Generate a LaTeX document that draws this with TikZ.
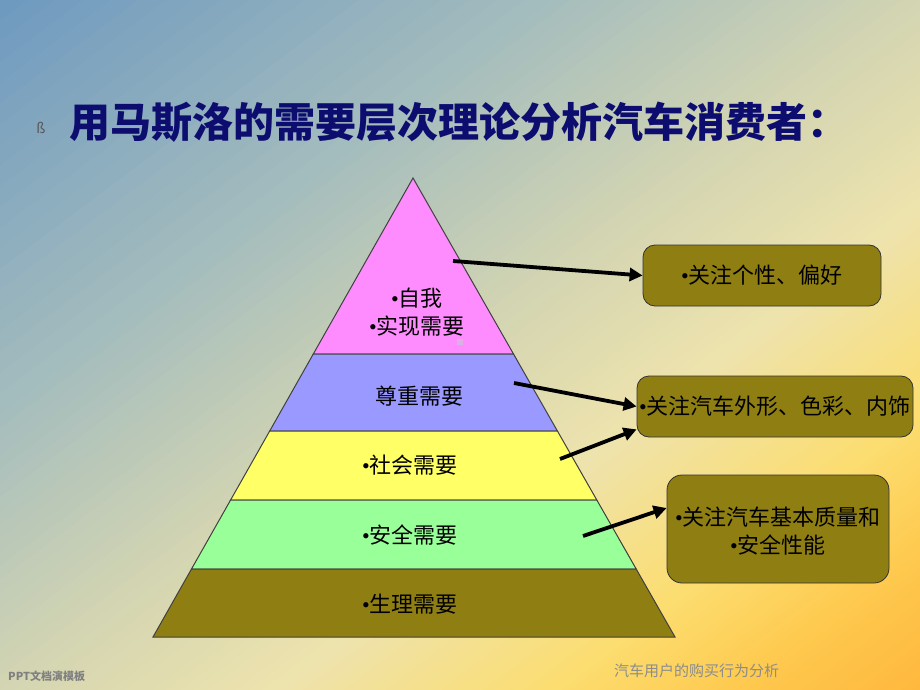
\documentclass[tikz,border=0pt]{standalone}
\usepackage{fontspec}
\usetikzlibrary{arrows.meta}
\newfontfamily\cjk{Noto Sans CJK SC}
\newfontfamily\latbul{Liberation Serif}
\newcommand\bu{{\latbul •}}
\definecolor{bgA}{HTML}{6E99BF}
\definecolor{bgB}{HTML}{A5BDBD}
\definecolor{bgC}{HTML}{D3D5B2}
\definecolor{bgD}{HTML}{EEE3AD}
\definecolor{bgE}{HTML}{FCDD70}
\definecolor{bgF}{HTML}{FEC94E}
\definecolor{bgG}{HTML}{FFB43A}
\definecolor{pinkL}{HTML}{FF8CFF}
\definecolor{blueL}{HTML}{9999FF}
\definecolor{yellowL}{HTML}{FFFF66}
\definecolor{greenL}{HTML}{99FF99}
\definecolor{oliveL}{HTML}{8F7F13}
\definecolor{titleC}{HTML}{0D0D70}
\definecolor{dotC}{HTML}{DCB0E4}
\begin{document}
\begin{tikzpicture}[x=1pt,y=-1pt,
  layer/.style={draw=black!75, line width=1pt},
  lbl/.style={font=\cjk\fontsize{22}{28}\selectfont, text=black, inner sep=0pt, align=center},
  infobox/.style={draw=black!80, fill=oliveL, line width=0.8pt, inner sep=0pt},
  arr/.style={-{Triangle[length=13pt,width=13pt]}, line width=3.8pt, black},
  foot/.style={inner sep=0pt}]
\useasboundingbox (0,0) rectangle (920,690);
% background gradient
\begin{scope}
\clip (0,0) rectangle (920,690);
\foreach \ta/\tb/\ca/\cb in {0/0.3/bgA/bgB, 0.3/0.5/bgB/bgC, 0.5/0.65/bgC/bgD, 0.65/0.8/bgD/bgE, 0.8/0.9/bgE/bgF, 0.9/1.02/bgF/bgG}{
  \foreach \i in {0,...,19}{
    \pgfmathsetmacro\sa{\ta+(\tb-\ta)*\i/20}
    \pgfmathsetmacro\sb{\ta+(\tb-\ta)*(\i+1.4)/20}
    \pgfmathtruncatemacro\p{100*(\i+0.5)/20}
    \fill[fill=\cb!\p!\ca] (1840*\sa,0) -- (1840*\sb,0) -- (0,1380*\sb) -- (0,1380*\sa) -- cycle;
  }}
\end{scope}
% title
\node[foot, anchor=center, text=black!65, font=\cjk\fontsize{14}{16}\selectfont] (bul) at (41,128) {ß};
\node[foot, anchor=west, text=titleC, font=\cjk\bfseries\fontsize{41}{48}\selectfont] (title) at (69,122) {用马斯洛的需要层次理论分析汽车消费者：};
% pyramid coordinates
\coordinate (apex) at (413,178);
\coordinate (l1) at (313.3,354); \coordinate (r1) at (513.5,354);
\coordinate (l2) at (269.7,431); \coordinate (r2) at (557.4,431);
\coordinate (l3) at (230.6,500); \coordinate (r3) at (596.8,500);
\coordinate (l4) at (191.5,569); \coordinate (r4) at (636.2,569);
\coordinate (l5) at (153,637);   \coordinate (r5) at (675,637);
\filldraw[layer, fill=pinkL] (apex) -- (r1) -- (l1) -- cycle;
\filldraw[layer, fill=blueL] (l1) -- (r1) -- (r2) -- (l2) -- cycle;
\filldraw[layer, fill=yellowL] (l2) -- (r2) -- (r3) -- (l3) -- cycle;
\filldraw[layer, fill=greenL] (l3) -- (r3) -- (r4) -- (l4) -- cycle;
\filldraw[layer, fill=oliveL] (l4) -- (r4) -- (r5) -- (l5) -- cycle;
\fill[dotC] (457,339) rectangle (463,345);
% pyramid labels
\node[lbl] (p1) at (417,312) {\bu 自我\\\bu 实现需要};
\node[lbl] (p2) at (419,396) {尊重需要};
\node[lbl] (p3) at (410,465) {\bu 社会需要};
\node[lbl] (p4) at (410,535) {\bu 安全需要};
\node[lbl] (p5) at (410,604) {\bu 生理需要};
% boxes
\node[infobox, rounded corners=12pt, minimum width=238pt, minimum height=61pt] (b1) at (762,275.5) {};
\node[infobox, rounded corners=12pt, minimum width=276pt, minimum height=61pt] (b2) at (775,406.5) {};
\node[infobox, rounded corners=15pt, minimum width=222pt, minimum height=108pt] (b3) at (778,529) {};
\node[lbl] (t1) at (762,275) {\bu 关注个性、偏好};
\node[lbl] (t2) at (775,406) {\bu 关注汽车外形、色彩、内饰};
\node[lbl] (t3) at (778,531) {\bu 关注汽车基本质量和\\\bu 安全性能};
% arrows
\coordinate (s1) at (453,261);
\coordinate (s2) at (514,383);
\coordinate (s3) at (560,459);
\coordinate (s4) at (583,536);
\draw[arr] (s1) -- (b1.west);
\draw[arr] (s2) -- (b2.west);
\draw[arr] (s3) -- ([yshift=8pt]b2.south west);
\draw[arr] (s4) -- ([yshift=21pt]b3.west);
% footer
\node[foot, anchor=west, text=black!50, font=\cjk\bfseries\fontsize{11}{13}\selectfont] (f1) at (8,676) {PPT文档演模板};
\node[foot, anchor=west, text=black!45, font=\cjk\fontsize{15}{18}\selectfont] (f2) at (614,671) {汽车用户的购买行为分析};
\end{tikzpicture}
\end{document}
